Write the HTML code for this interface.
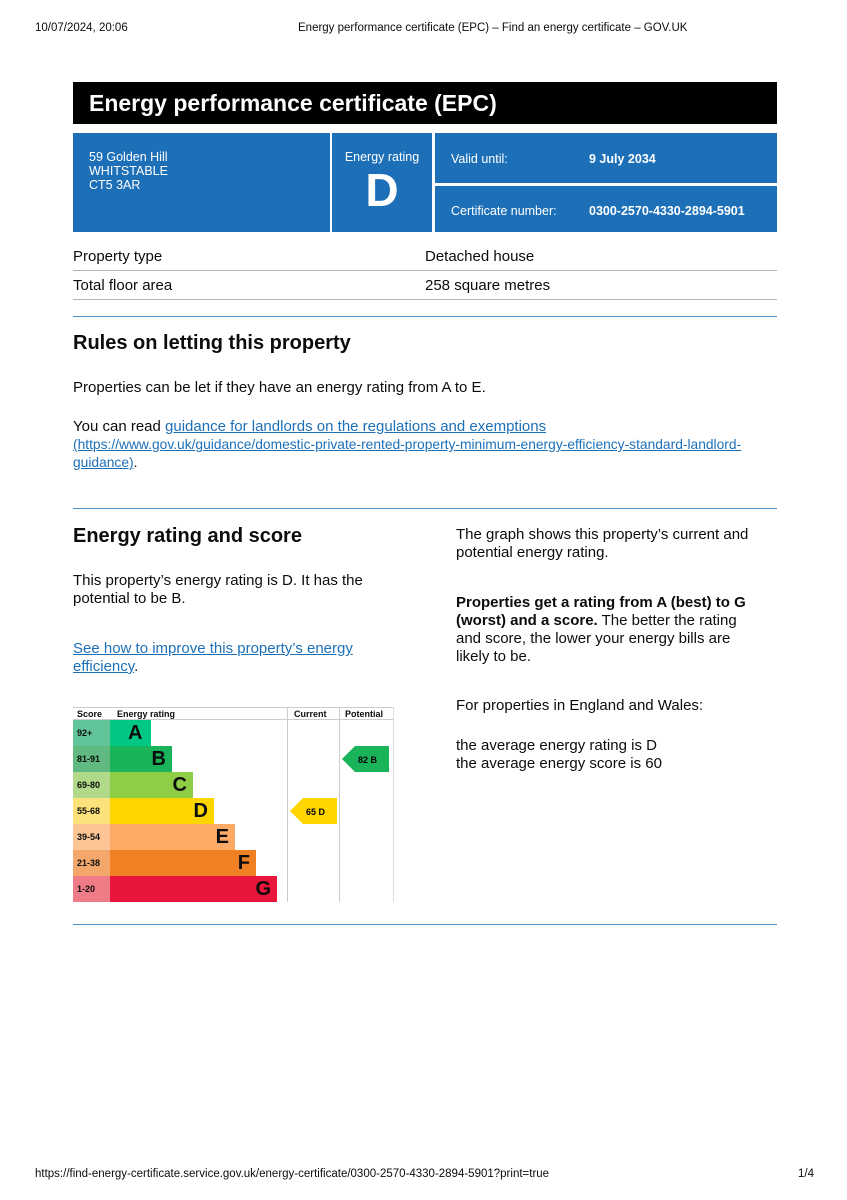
<!DOCTYPE html>
<html><head><style>
body{margin:0;width:847px;height:1200px;background:#fff;font-family:"Liberation Sans",Arial,sans-serif;color:#0b0c0c;position:relative;overflow:hidden}
.a{position:absolute;white-space:nowrap}
.blue{position:absolute;background:#1d70b8;color:#fff}
.line{position:absolute;left:73px;width:704px;height:1px;background:#b1b4b6}
.hr{position:absolute;left:73px;width:704px;height:1px;background:#1d70b8;opacity:.8}
a{color:#1d70b8}
.bar{position:absolute;left:110px;height:26px;font-weight:bold;font-size:20px;color:#0b0c0c;text-align:right;line-height:26px;box-sizing:border-box;padding-right:6px}
.sc{position:absolute;left:73px;width:37px;height:26px;font-size:9px;font-weight:bold;line-height:26px;padding-left:4px;box-sizing:border-box}
</style></head><body>
<div class="a" style="left:35px;top:22px;font-size:11.5px">10/07/2024, 20:06</div>
<div class="a" style="left:298px;top:22px;font-size:11.5px">Energy performance certificate (EPC) – Find an energy certificate – GOV.UK</div>

<div class="a" style="left:73px;top:82px;width:704px;height:42px;background:#000;color:#fff;font-size:23px;font-weight:bold;line-height:42px;padding-left:16px;box-sizing:border-box">Energy performance certificate (EPC)</div>
<div class="blue" style="left:73px;top:133px;width:257px;height:99px;font-size:12.5px;line-height:14px;padding:17px 0 0 16px;box-sizing:border-box">59 Golden Hill<br>WHITSTABLE<br>CT5 3AR</div>
<div class="blue" style="left:332px;top:133px;width:100px;height:99px;text-align:center;font-size:12.5px;padding-top:17px;box-sizing:border-box">Energy rating<div style="font-size:46px;font-weight:bold;line-height:52px">D</div></div>
<div class="blue" style="left:435px;top:133px;width:342px;height:50px;font-size:12.5px;line-height:52px;padding-left:16px;box-sizing:border-box">Valid until:<b style="position:absolute;left:154px">9 July 2034</b></div>
<div class="blue" style="left:435px;top:186px;width:342px;height:46px;font-size:12.5px;line-height:50px;padding-left:16px;box-sizing:border-box">Certificate number:<b style="position:absolute;left:154px">0300-2570-4330-2894-5901</b></div>

<div class="a" style="left:73px;top:248px;font-size:15px">Property type</div>
<div class="a" style="left:425px;top:248px;font-size:15px">Detached house</div>
<div class="line" style="top:270px"></div>
<div class="a" style="left:73px;top:277px;font-size:15px">Total floor area</div>
<div class="a" style="left:425px;top:277px;font-size:15px">258 square metres</div>
<div class="line" style="top:299px"></div>
<div class="hr" style="top:316px"></div>

<div class="a" style="left:73px;top:332px;font-size:20px;font-weight:bold">Rules on letting this property</div>
<div class="a" style="left:73px;top:379px;font-size:15px">Properties can be let if they have an energy rating from A to E.</div>
<div class="a" style="left:73px;top:418px;font-size:15px">You can read <a href="#">guidance for landlords on the regulations and exemptions</a></div>
<div class="a" style="left:73px;top:436px;font-size:13.8px;line-height:18px"><a href="#">(https://www.gov.uk/guidance/domestic-private-rented-property-minimum-energy-efficiency-standard-landlord-<br>guidance)</a>.</div>
<div class="hr" style="top:508px"></div>

<div class="a" style="left:73px;top:525px;font-size:20px;font-weight:bold">Energy rating and score</div>
<div class="a" style="left:73px;top:572px;font-size:15px;line-height:18px">This property’s energy rating is D. It has the<br>potential to be B.</div>
<div class="a" style="left:73px;top:640px;font-size:15px;line-height:18px"><a href="#">See how to improve this property’s energy<br>efficiency</a>.</div>

<div class="a" style="left:456px;top:526px;font-size:15px;line-height:18px">The graph shows this property’s current and<br>potential energy rating.</div>
<div class="a" style="left:456px;top:594px;font-size:15px;line-height:18px"><b>Properties get a rating from A (best) to G<br>(worst) and a score.</b> The better the rating<br>and score, the lower your energy bills are<br>likely to be.</div>
<div class="a" style="left:456px;top:697px;font-size:15px">For properties in England and Wales:</div>
<div class="a" style="left:456px;top:737px;font-size:15px;line-height:18px">the average energy rating is D<br>the average energy score is 60</div>

<div class="a" style="left:73px;top:707px;width:321px;height:1px;background:#ccc"></div>
<div class="a" style="left:73px;top:719px;width:321px;height:1px;background:#ccc"></div>
<div class="a" style="left:287px;top:707px;width:1px;height:195px;background:#ccc"></div>
<div class="a" style="left:339px;top:707px;width:1px;height:195px;background:#ccc"></div>
<div class="a" style="left:393px;top:707px;width:1px;height:195px;background:#ddd"></div>
<div class="a" style="left:77px;top:709px;font-size:9px;font-weight:bold">Score</div>
<div class="a" style="left:117px;top:709px;font-size:9px;font-weight:bold">Energy rating</div>
<div class="a" style="left:294px;top:709px;font-size:9px;font-weight:bold">Current</div>
<div class="a" style="left:345px;top:709px;font-size:9px;font-weight:bold">Potential</div>

<div class="sc" style="top:720px;background:#62c59a">92+</div>
<div class="sc" style="top:746px;background:#5fb980">81-91</div>
<div class="sc" style="top:772px;background:#b1d98a">69-80</div>
<div class="sc" style="top:798px;background:#fde17a">55-68</div>
<div class="sc" style="top:824px;background:#fdc596">39-54</div>
<div class="sc" style="top:850px;background:#f4a76b">21-38</div>
<div class="sc" style="top:876px;background:#ef7b87">1-20</div>
<div class="bar" style="top:720px;width:41px;background:#00c781;text-align:left;padding-left:18px">A</div>
<div class="bar" style="top:746px;width:62px;background:#19b459">B</div>
<div class="bar" style="top:772px;width:83px;background:#8dce46">C</div>
<div class="bar" style="top:798px;width:104px;background:#ffd500">D</div>
<div class="bar" style="top:824px;width:125px;background:#fcaa65">E</div>
<div class="bar" style="top:850px;width:146px;background:#ef8023">F</div>
<div class="bar" style="top:876px;width:167px;background:#e9153b">G</div>

<svg class="a" style="left:290px;top:798px" width="47" height="26"><polygon points="0,13 13,0 47,0 47,26 13,26" fill="#ffd500"/><text x="16" y="17" font-size="9" font-weight="bold" font-family="Liberation Sans">65  D</text></svg>
<svg class="a" style="left:342px;top:746px" width="47" height="26"><polygon points="0,13 13,0 47,0 47,26 13,26" fill="#19b459"/><text x="16" y="17" font-size="9" font-weight="bold" font-family="Liberation Sans">82  B</text></svg>

<div class="hr" style="top:924px"></div>

<div class="a" style="left:35px;top:1168px;font-size:11.5px">https://find-energy-certificate.service.gov.uk/energy-certificate/0300-2570-4330-2894-5901?print=true</div>
<div class="a" style="left:798px;top:1168px;font-size:11.5px">1/4</div>
</body></html>
